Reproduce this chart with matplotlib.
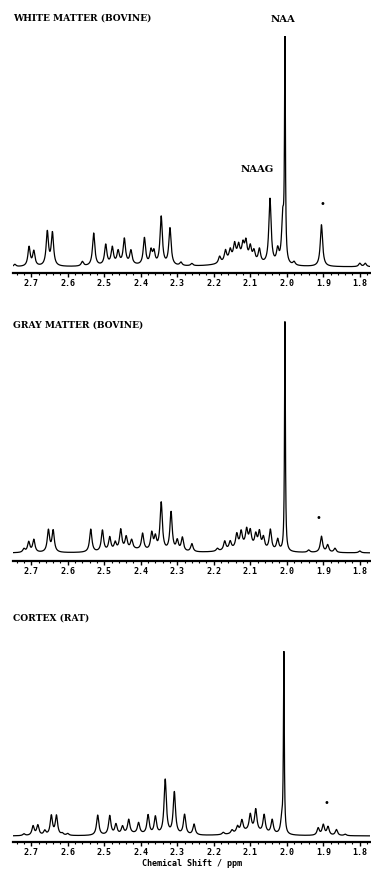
import numpy as np
import matplotlib
matplotlib.use("Agg")
import matplotlib.pyplot as plt
from matplotlib.ticker import MultipleLocator, FormatStrFormatter

# peak lists (ppm, height relative to the NAA singlet)
white_ppm = [2.745, 2.706, 2.693, 2.656, 2.642, 2.56, 2.529, 2.496, 2.478, 2.462,
             2.445, 2.427, 2.39, 2.372, 2.364, 2.344, 2.32, 2.29, 2.26, 2.184,
             2.168, 2.155, 2.143, 2.132, 2.12, 2.112, 2.1, 2.09, 2.075, 2.046,
             2.025, 2.011, 2.005, 1.98, 1.905, 1.8, 1.785]
white_h = [0.01, 0.085, 0.065, 0.15, 0.145, 0.02, 0.145, 0.09, 0.075, 0.055,
           0.11, 0.06, 0.12, 0.06, 0.055, 0.215, 0.165, 0.015, 0.01, 0.03,
           0.05, 0.045, 0.065, 0.055, 0.06, 0.075, 0.06, 0.045, 0.06, 0.29,
           0.06, 0.2, 1.0, 0.015, 0.185, 0.015, 0.015]
# broad background humps under the multiplets
white_hump_ppm = [2.13, 2.45]
white_hump_h = [0.035, 0.01]

gray_ppm = [2.72, 2.707, 2.693, 2.653, 2.64, 2.537, 2.505, 2.485, 2.47, 2.455,
            2.44, 2.425, 2.395, 2.37, 2.36, 2.344, 2.317, 2.3, 2.286, 2.26,
            2.19, 2.17, 2.155, 2.137, 2.125, 2.11, 2.1, 2.085, 2.075, 2.064,
            2.045, 2.025, 2.005, 1.94, 1.905, 1.888, 1.868, 1.8]
gray_h = [0.015, 0.045, 0.055, 0.095, 0.093, 0.1, 0.093, 0.06, 0.035, 0.09,
          0.055, 0.04, 0.072, 0.075, 0.055, 0.21, 0.17, 0.045, 0.06, 0.035,
          0.012, 0.04, 0.035, 0.06, 0.065, 0.07, 0.065, 0.055, 0.07, 0.05,
          0.09, 0.05, 1.0, 0.01, 0.07, 0.032, 0.018, 0.008]
gray_hump_ppm = [2.11, 2.42]
gray_hump_h = [0.025, 0.012]

cortex_ppm = [2.72, 2.695, 2.682, 2.663, 2.645, 2.631, 2.615, 2.60, 2.518, 2.485,
              2.468, 2.45, 2.433, 2.406, 2.38, 2.36, 2.333, 2.308, 2.28, 2.254,
              2.174, 2.15, 2.135, 2.123, 2.10, 2.085, 2.062, 2.04, 2.014, 2.008,
              1.914, 1.90, 1.887, 1.864, 1.84]
cortex_h = [0.01, 0.052, 0.056, 0.025, 0.108, 0.108, 0.01, 0.01, 0.112, 0.106,
            0.056, 0.042, 0.078, 0.06, 0.106, 0.097, 0.305, 0.235, 0.112, 0.06,
            0.012, 0.02, 0.035, 0.065, 0.09, 0.12, 0.1, 0.078, 0.07, 1.0,
            0.04, 0.058, 0.047, 0.033, 0.008]
cortex_hump_ppm = [2.1, 2.42]
cortex_hump_h = [0.025, 0.01]

titles = ["WHITE MATTER (BOVINE)", "GRAY MATTER (BOVINE)", "CORTEX (RAT)"]
ticks = [2.7, 2.6, 2.5, 2.4, 2.3, 2.2, 2.1, 2.0, 1.9, 1.8]

W, H = 371, 869
# spine y, baseline y, NAA top y (pixels)
panels = [(273, 267, 41), (561, 553, 323), (842, 836, 656)]

x = np.linspace(2.75, 1.77, 5000)


def lorentz(pos, h, hw):
    pos = np.asarray(pos)[:, None]
    h = np.asarray(h)[:, None]
    return (h / (1 + ((x[None, :] - pos) / hw) ** 2)).sum(axis=0)


def spectrum(pos, h, hpos, hh):
    hw = np.where(np.asarray(h) >= 0.99, 0.0014, 0.0038)[:, None]
    return lorentz(pos, h, hw) + lorentz(hpos, hh, 0.04)


fig = plt.figure(figsize=(W / 100, H / 100), dpi=100)
data = [(white_ppm, white_h, white_hump_ppm, white_hump_h),
        (gray_ppm, gray_h, gray_hump_ppm, gray_hump_h),
        (cortex_ppm, cortex_h, cortex_hump_ppm, cortex_hump_h)]

for i, (d, (spine, base, top)) in enumerate(zip(data, panels)):
    scale = base - top
    ax_top = top - 5
    ax = fig.add_axes([13 / W, 1 - spine / H, 357 / W, (spine - ax_top) / H])
    ax.plot(x, spectrum(*d), color="black", lw=0.9)
    ax.set_xlim(2.75, 1.772)
    ax.set_ylim(-(spine - base) / scale, 1 + 5 / scale)
    for s in ["top", "left", "right"]:
        ax.spines[s].set_visible(False)
    ax.spines["bottom"].set_linewidth(1.6)
    ax.set_yticks([])
    ax.set_xticks(ticks)
    ax.xaxis.set_major_formatter(FormatStrFormatter("%.1f"))
    ax.xaxis.set_minor_locator(MultipleLocator(0.02))
    ax.tick_params(axis="x", which="major", length=3, width=1.0, pad=1.5)
    ax.tick_params(axis="x", which="minor", length=1.5, width=0.8)
    for lab in ax.get_xticklabels():
        lab.set_fontfamily("DejaVu Sans Mono")
        lab.set_fontweight("bold")
        lab.set_fontsize(6)
    fig.text(13 / W, 1 - [18, 325, 618][i] / H, titles[i], family="DejaVu Serif",
             weight="bold", fontsize=6.6, ha="left", va="center")

fig.text(283 / W, 1 - 19 / H, "NAA", family="DejaVu Serif", weight="bold",
         fontsize=7.2, ha="center", va="center")
fig.text(257 / W, 1 - 169 / H, "NAAG", family="DejaVu Serif", weight="bold",
         fontsize=7.2, ha="center", va="center")
for px, py in [(322, 204), (318, 518), (326, 803)]:
    fig.text(px / W, 1 - py / H, "\u2022", fontsize=7, ha="center", va="center")

fig.text(192 / W, 1 - 864 / H, "Chemical Shift / ppm", family="DejaVu Sans Mono",
         weight="bold", fontsize=6, ha="center", va="center")

fig.savefig("out.png", dpi=100)
